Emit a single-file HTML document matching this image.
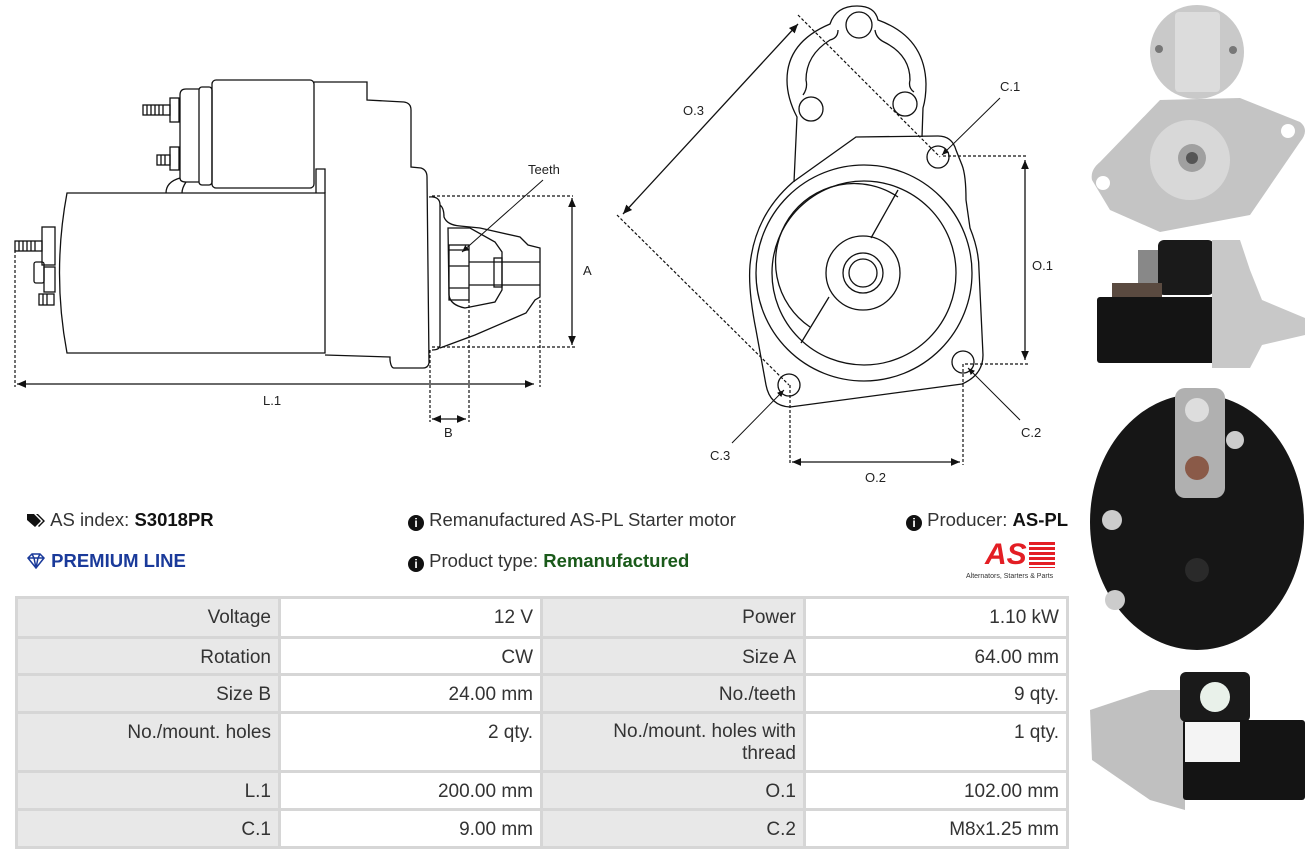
<!DOCTYPE html>
<html><head><meta charset="utf-8"><style>
body{margin:0;width:1316px;height:860px;background:#fff;position:relative;overflow:hidden;font-family:"Liberation Sans",Arial,sans-serif;color:#333}
.t{position:absolute;font-size:18.5px;white-space:nowrap}
table{position:absolute;left:15px;top:596px;border-collapse:collapse;font-size:19px;color:#333}
td{border:3px solid #d6d6d6;text-align:right;vertical-align:top;padding:8px 7px 0 6px;box-sizing:border-box}
td.l{background:#e8e8e8}
td.v{background:#fff}
</style></head><body>
<svg width="1316" height="860" style="position:absolute;left:0;top:0" font-family="Liberation Sans, Arial, sans-serif" font-size="13" fill="none" stroke="#111" stroke-width="1.3">
<defs><marker id="a" markerWidth="8" markerHeight="8" refX="7" refY="4" orient="auto"><path d="M0,1 L7,4 L0,7 z" fill="#111" stroke="none"/></marker>
<marker id="b" markerWidth="8" markerHeight="8" refX="1" refY="4" orient="auto"><path d="M8,1 L1,4 L8,7 z" fill="#111" stroke="none"/></marker></defs>
<!-- SIDE VIEW -->
<path d="M67,193 L325,193 L325,353 L67,353 Q52,273 67,193 Z"/>
<path d="M316,193 L316,169 L325,169 L325,193"/>
<path d="M314,82 L367,82 L367,100 L404,102 Q411,103 411,110 L411,167 L421,168 Q427,170 427,177 L429,363 Q428,368 423,368 L394,368 Q391,368 390,360 L390,357 L325,355"/>
<rect x="212" y="80" width="102" height="108" rx="4"/>
<rect x="199" y="87" width="13" height="98" rx="3"/>
<path d="M199,89 L186,89 Q180,89 180,95 L180,178 Q180,182 186,182 L199,182"/>
<path d="M180,178 Q166,182 166,193 M186,182 Q182,188 182,193"/>
<rect x="143" y="105" width="27" height="10"/><path d="M147,105v10M151,105v10M155,105v10M159,105v10M163,105v10"/>
<rect x="170" y="98" width="9" height="24"/>
<rect x="157" y="155" width="13" height="10"/><path d="M161,155v10M165,155v10"/>
<rect x="170" y="147" width="9" height="23"/>
<rect x="15" y="241" width="27" height="10"/><path d="M19,241v10M23,241v10M27,241v10M31,241v10M35,241v10"/>
<rect x="42" y="227" width="13" height="38"/>
<rect x="34" y="262" width="10" height="21" rx="2"/>
<rect x="44" y="267" width="11" height="25"/>
<rect x="39" y="294" width="15" height="11"/><path d="M43,294v11M47,294v11"/>
<path d="M429,197 Q440,196 440,205 L440,345 Q440,350 432,350"/>
<path d="M440,205 Q444,208 444,217 Q447,225 460,226 L480,228 L520,237 L528,245 L540,248 L540,297 L535,300 L526,313 L475,335 L440,348"/>
<path d="M448,228 L470,228 L495,242 L502,252 L502,290 L495,302 L465,308 Q450,305 449,295 Z"/>
<rect x="449" y="245" width="20" height="55"/><path d="M449,250h20M449,266h20M449,288h20"/>
<path d="M469,262 L540,262 M469,285 L540,285"/>
<rect x="494" y="258" width="8" height="29"/>
<g stroke-dasharray="3,2" stroke-width="1.2">
<path d="M15,250 L15,387 M540,300 L540,387 M432,196 L573,196 M432,347 L576,347 M430,350 L430,422 M469,300 L469,422"/></g>
<path d="M17,384 L534,384" marker-start="url(#b)" marker-end="url(#a)"/>
<path d="M572,198 L572,345" marker-start="url(#b)" marker-end="url(#a)"/>
<path d="M432,419 L466,419" marker-start="url(#b)" marker-end="url(#a)"/>
<path d="M543,180 L462,252" stroke-width="1" marker-end="url(#a)"/>
<g fill="#222" stroke="none"><text x="528" y="174">Teeth</text><text x="583" y="275">A</text><text x="263" y="405">L.1</text><text x="444" y="437">B</text></g>
<!-- FRONT VIEW -->
<path d="M794,182 L797,117 Q787,98 787,80 Q787,42 830,24 Q836,6 857,6 Q875,6 878,20 Q925,37 926,84 Q926,98 923,108 L922,137"/>
<path d="M803,95 Q808,88 806,80 Q806,55 830,40 Q838,38 838,30 M875,30 Q876,38 884,42 Q910,55 910,80 Q908,88 914,92"/>
<circle cx="859" cy="25" r="13"/><circle cx="811" cy="109" r="12"/><circle cx="905" cy="104" r="12"/>
<path d="M856,137 L938,136 Q952,136 956,150 L962,165 Q966,175 966,200 L970,228 Q979,250 979,270 L983,355 Q983,375 962,384 L790,407 Q770,406 766,385 L756,330 Q748,290 750,265 Q755,215 793,182 Z"/>
<circle cx="864" cy="273" r="108"/><circle cx="864" cy="273" r="92"/>
<path d="M898,197 A78,78 0 0 0 810,327" /><circle cx="863" cy="273" r="37"/><circle cx="863" cy="273" r="20"/><circle cx="863" cy="273" r="14"/>
<path d="M898,190 L871,238 M829,297 L801,343"/>
<circle cx="938" cy="157" r="11"/><circle cx="963" cy="362" r="11"/><circle cx="789" cy="385" r="11"/>
<g stroke-dasharray="3,2" stroke-width="1.2">
<path d="M798,15 L940,157 M617,215 L789,385 M943,156 L1028,156 M965,364 L1028,364 M790,385 L790,465 M963,364 L963,465"/></g>
<path d="M798,24 L623,214" marker-start="url(#b)" marker-end="url(#a)"/>
<path d="M1025,160 L1025,360" marker-start="url(#b)" marker-end="url(#a)"/>
<path d="M792,462 L960,462" marker-start="url(#b)" marker-end="url(#a)"/>
<g stroke-width="1"><path d="M1000,98 L942,155" marker-end="url(#a)"/><path d="M1020,420 L968,368" marker-end="url(#a)"/><path d="M732,443 L784,390" marker-end="url(#a)"/></g>
<g fill="#222" stroke="none"><text x="683" y="115">O.3</text><text x="1000" y="91">C.1</text><text x="1032" y="270">O.1</text><text x="1021" y="437">C.2</text><text x="710" y="460">C.3</text><text x="865" y="482">O.2</text></g>
<!-- PHOTOS -->
<g stroke="none">
<circle cx="1197" cy="52" r="47" fill="#c9c9c9"/>
<rect x="1175" y="12" width="45" height="80" rx="4" fill="#dcdcdc"/>
<path d="M1092,180 Q1090,170 1100,162 L1160,100 L1240,98 L1300,122 Q1310,130 1300,142 L1250,215 L1160,232 L1110,210 Z" fill="#c4c4c4"/>
<circle cx="1190" cy="160" r="40" fill="#d8d8d8"/><circle cx="1192" cy="158" r="14" fill="#a0a0a0"/><circle cx="1192" cy="158" r="6" fill="#555"/>
<circle cx="1103" cy="183" r="7" fill="#fff"/><circle cx="1288" cy="131" r="7" fill="#fff"/>
<circle cx="1159" cy="49" r="4" fill="#777"/><circle cx="1233" cy="50" r="4" fill="#777"/>
<rect x="1158" y="240" width="56" height="55" rx="6" fill="#1a1a1a"/>
<rect x="1138" y="250" width="20" height="40" fill="#888"/>
<rect x="1112" y="283" width="50" height="18" fill="#5a4a40"/>
<rect x="1097" y="297" width="120" height="66" rx="3" fill="#141414"/>
<path d="M1212,240 L1240,240 L1250,270 L1262,300 L1305,318 L1305,335 L1262,345 L1250,368 L1212,368 Z" fill="#c8c8c8"/>
<ellipse cx="1197" cy="522" rx="107" ry="128" fill="#161616"/>
<rect x="1175" y="388" width="50" height="110" rx="10" fill="#b0b0b0"/>
<circle cx="1197" cy="410" r="12" fill="#ddd"/><circle cx="1197" cy="468" r="12" fill="#8a5a48"/>
<circle cx="1235" cy="440" r="9" fill="#ccc"/><circle cx="1112" cy="520" r="10" fill="#ccc"/><circle cx="1115" cy="600" r="10" fill="#ccc"/>
<circle cx="1197" cy="570" r="12" fill="#2a2a2a"/>
<path d="M1090,710 L1150,690 L1185,690 L1185,810 L1150,800 L1092,760 Z" fill="#c0c0c0"/>
<rect x="1180" y="672" width="70" height="50" rx="6" fill="#1a1a1a"/>
<rect x="1183" y="720" width="122" height="80" rx="3" fill="#141414"/>
<rect x="1185" y="722" width="55" height="40" fill="#f4f4f4"/>
<circle cx="1215" cy="697" r="15" fill="#e9f1ea"/>
</g>
</svg>
<div class="t" style="left:26px;top:509px"><svg width="20" height="16" viewBox="0 0 20 16" style="vertical-align:-2px"><path d="M1,2 L8,2 L15,9 L9,15 L1,8Z M10,2 L12,2 L19,9 L13,15 L12,14 L17,9Z" fill="#111"/></svg> AS index: <b style="color:#111">S3018PR</b></div>
<div class="t" style="left:26px;top:550px;color:#1a3a9a;font-weight:bold"><svg width="20" height="16" viewBox="0 0 20 16" style="vertical-align:-2px"><path d="M2,5 L6,1 L14,1 L18,5 L10,15 Z M2,5 H18 M6,1 L8,5 L10,15 L12,5 L14,1" fill="none" stroke="#1a3a9a" stroke-width="1.5"/></svg> PREMIUM LINE</div>
<div class="t" style="left:408px;top:509px"><span style="display:inline-block;width:16px;height:16px;border-radius:50%;background:#111;color:#fff;font-size:12px;text-align:center;line-height:16px;font-weight:bold;vertical-align:-1px">i</span> Remanufactured AS-PL Starter motor</div>
<div class="t" style="left:408px;top:550px"><span style="display:inline-block;width:16px;height:16px;border-radius:50%;background:#111;color:#fff;font-size:12px;text-align:center;line-height:16px;font-weight:bold;vertical-align:-1px">i</span> Product type: <b style="color:#1a5a1a">Remanufactured</b></div>
<div class="t" style="left:906px;top:509px"><span style="display:inline-block;width:16px;height:16px;border-radius:50%;background:#111;color:#fff;font-size:12px;text-align:center;line-height:16px;font-weight:bold;vertical-align:-1px">i</span> Producer: <b style="color:#111">AS-PL</b></div>
<div style="position:absolute;left:985px;top:540px;width:70px;height:30px">
<div style="position:absolute;left:0;top:0;font:italic bold 30px 'Liberation Sans',sans-serif;color:#e31e24;line-height:30px">AS</div>
<div style="position:absolute;left:44px;top:2px;width:26px;height:26px;background:repeating-linear-gradient(#e31e24 0 3px,#fff 3px 5px)"></div></div>
<div class="t" style="left:966px;top:573px;font-size:7px;color:#333">Alternators, Starters &amp; Parts</div>
<table>
<tr style="height:40px"><td class="l" style="width:263px">Voltage</td><td class="v" style="width:262px">12 V</td><td class="l" style="width:263px">Power</td><td class="v" style="width:263px">1.10 kW</td></tr>
<tr style="height:37px"><td class="l">Rotation</td><td class="v">CW</td><td class="l">Size A</td><td class="v">64.00 mm</td></tr>
<tr style="height:38px"><td class="l">Size B</td><td class="v">24.00 mm</td><td class="l">No./teeth</td><td class="v">9 qty.</td></tr>
<tr style="height:59px"><td class="l">No./mount. holes</td><td class="v">2 qty.</td><td class="l" style="line-height:22px;padding-top:7px">No./mount. holes with<br>thread</td><td class="v">1 qty.</td></tr>
<tr style="height:38px"><td class="l">L.1</td><td class="v">200.00 mm</td><td class="l">O.1</td><td class="v">102.00 mm</td></tr>
<tr style="height:38px"><td class="l">C.1</td><td class="v">9.00 mm</td><td class="l">C.2</td><td class="v">M8x1.25 mm</td></tr>
</table>
</body></html>
